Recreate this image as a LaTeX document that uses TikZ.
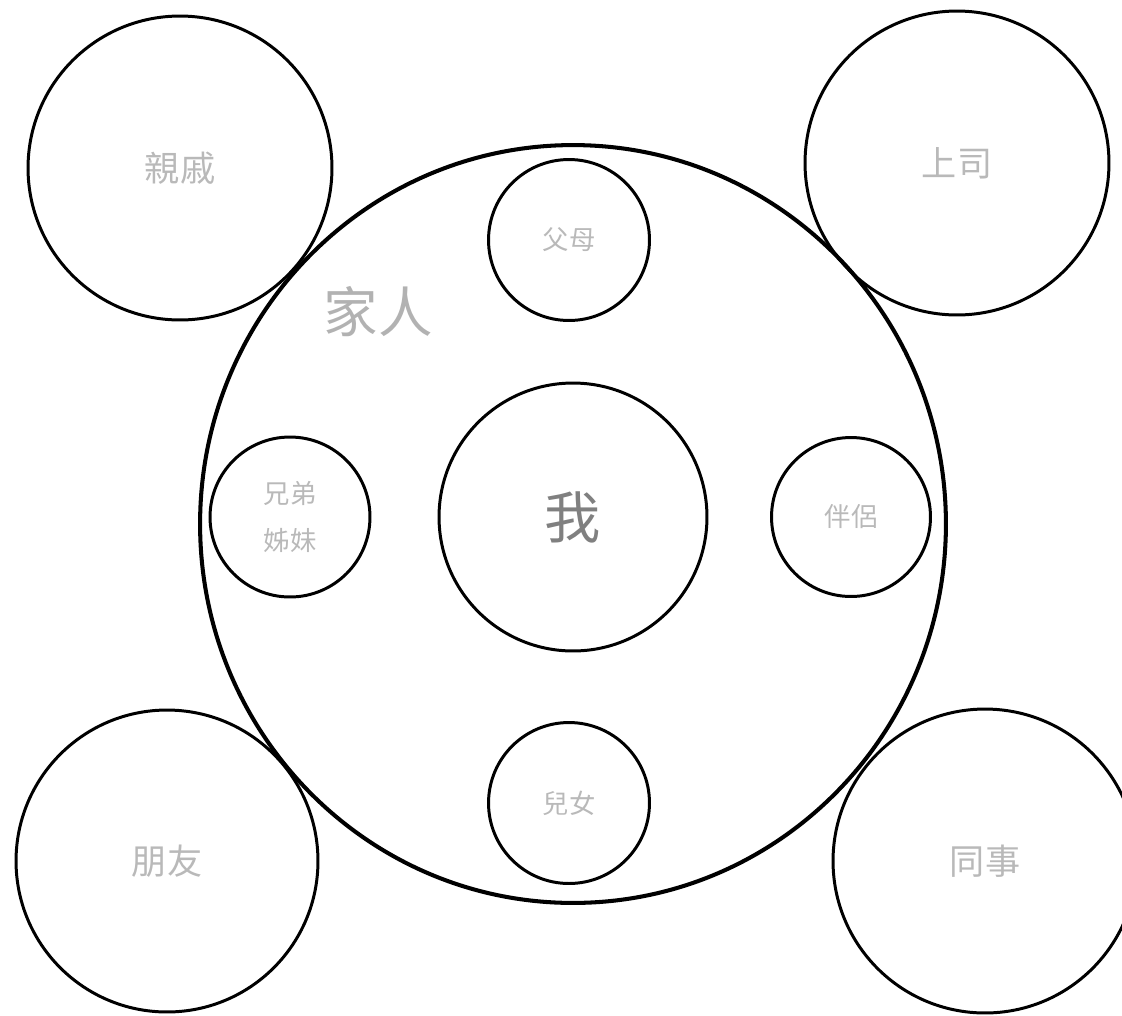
\documentclass[tikz,border=0pt]{standalone}
\usepackage{fontspec}
\setmainfont{Noto Sans CJK TC}
\usetikzlibrary{shapes.geometric}

\tikzset{
  ring/.style={circle, draw, line width=1.7pt, inner sep=0pt, text=gray!55},
  bigring/.style={ring, minimum size=6.08cm, font=\fontsize{20}{24}\selectfont},
  smallring/.style={ring, minimum size=3.22cm, align=center, font=\fontsize{15}{27}\selectfont}
}

\begin{document}
\begin{tikzpicture}[x=0.02cm, y=-0.02cm]

\useasboundingbox (0,0) rectangle (1122,1015);

% Family
\node[ellipse, draw, line width=2.3pt, minimum width=14.92cm, minimum height=15.16cm] (family) at (573,524) {};
\node[text=gray!60, font=\fontsize{31}{36}\selectfont] (familylabel) at (378,312) {家人};

% Outer circles
\node[bigring] (kin) at (180,168) {親戚};
\node[bigring] (boss) at (957,163) {上司};
\node[bigring, minimum size=6.04cm] (friend) at (167,861) {朋友};
\node[bigring] (coworker) at (985,861) {同事};

% Inside the family
\node[smallring] (parents) at (569,240) {父母};
\node[smallring, minimum size=3.2cm] (siblings) at (290,517) {兄弟\\姊妹};
\node[smallring, minimum size=3.18cm] (partner) at (851,517) {伴侶};
\node[smallring] (children) at (569,803) {兒女};

% Me
\node[ring, minimum size=5.36cm, text=gray, font=\fontsize{32}{36}\selectfont] (me) at (573,517) {我};

\end{tikzpicture}
\end{document}
